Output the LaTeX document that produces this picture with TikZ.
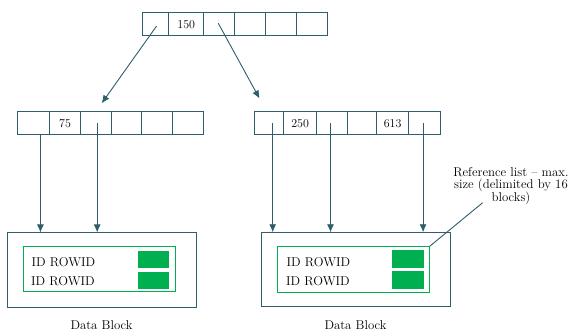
\documentclass[tikz,border=0pt]{standalone}
\usetikzlibrary{arrows.meta}
\definecolor{lineC}{HTML}{2F5D6C}
\definecolor{grn}{HTML}{00B050}
\begin{document}
\begin{tikzpicture}[x=1pt,y=-1pt,
  cell/.style={draw=lineC,line width=0.9pt,minimum height=23pt,inner sep=0pt,anchor=west,font=\fontsize{12}{14}\selectfont},
  arr/.style={draw=lineC,line width=0.9pt,-{Latex[length=8pt,width=7pt]}},
  blk/.style={draw=lineC,line width=0.9pt,inner sep=0pt},
  gbox/.style={draw=grn,line width=0.9pt,inner sep=0pt},
  gsq/.style={fill=grn,draw=none,inner sep=0pt},
  lbl/.style={font=\fontsize{12.8}{14}\selectfont}]
\useasboundingbox (0,0) rectangle (571,333);
% top array
\node[cell,minimum width=26.6pt] (t1) at (141.7,24.2) {};
\node[cell,minimum width=35pt] (t2) at (168.3,24.2) {150};
\node[cell,minimum width=31pt] (t3) at (203.3,24.2) {};
\node[cell,minimum width=30.7pt] (t4) at (234.3,24.2) {};
\node[cell,minimum width=30.7pt] (t5) at (265,24.2) {};
\node[cell,minimum width=31pt] (t6) at (295.7,24.2) {};
% left array
\node[cell,minimum width=32pt] (l1) at (17.3,123.3) {};
\node[cell,minimum width=30.7pt] (l2) at (49.3,123.3) {75};
\node[cell,minimum width=30.7pt] (l3) at (80,123.3) {};
\node[cell,minimum width=30.6pt] (l4) at (110.7,123.3) {};
\node[cell,minimum width=30.4pt] (l5) at (141.3,123.3) {};
\node[cell,minimum width=31.6pt] (l6) at (171.7,123.3) {};
% right array
\node[cell,minimum width=29.3pt] (r1) at (254,123.3) {};
\node[cell,minimum width=32.7pt] (r2) at (283.3,123.3) {250};
\node[cell,minimum width=30.7pt] (r3) at (316,123.3) {};
\node[cell,minimum width=29.3pt] (r4) at (346.7,123.3) {};
\node[cell,minimum width=32.3pt] (r5) at (376,123.3) {613};
\node[cell,minimum width=31.7pt] (r6) at (408.3,123.3) {};
% data blocks
\node[blk,minimum width=188.7pt,minimum height=74.3pt] (db1) at (101.65,270) {};
\node[blk,minimum width=189pt,minimum height=74pt] (db2) at (356.2,269.7) {};
\node[gbox,minimum width=151.7pt,minimum height=45pt] (g1) at (99.15,269.2) {};
\node[gbox,minimum width=152pt,minimum height=45.6pt] (g2) at (353.3,269.5) {};
\node[gsq,minimum width=31pt,minimum height=17pt] (s1a) at (153.8,259.2) {};
\node[gsq,minimum width=31pt,minimum height=17pt] (s1b) at (153.8,280.2) {};
\node[gsq,minimum width=31.7pt,minimum height=17.7pt] (s2a) at (408.2,258.9) {};
\node[gsq,minimum width=31.7pt,minimum height=17.7pt] (s2b) at (408.2,279.9) {};
\node[lbl,anchor=west,inner sep=0pt] (i1a) at (31.5,262.5) {ID ROWID};
\node[lbl,anchor=west,inner sep=0pt] (i1b) at (31,281) {ID ROWID};
\node[lbl,anchor=west,inner sep=0pt] (i2a) at (286.5,262.5) {ID ROWID};
\node[lbl,anchor=west,inner sep=0pt] (i2b) at (286,281) {ID ROWID};
\node[lbl] (d1) at (101.5,325) {Data Block};
\node[lbl] (d2) at (355.5,325) {Data Block};
\node[lbl,align=center,inner sep=0pt] (ref) at (511,186) {Reference list -- max.\\[-1.5pt]size (delimited by 16\\[-1.5pt]blocks)};
% connectors
\coordinate (p1) at (101.7,103.3);
\coordinate (p2) at (259.5,98.5);
\draw[arr] ([xshift=1pt,yshift=-2pt]t1.center) -- (p1);
\draw[arr] ([xshift=-1pt,yshift=1pt]t3.center) -- (p2);
\draw[arr] ([xshift=6.7pt]l1.south) -- ([xshift=6.7pt]l1.south |- db1.north);
\draw[arr] ([xshift=1.4pt]l3.center) -- ([xshift=1.4pt]l3.center |- db1.north);
\draw[arr] ([xshift=3.6pt]r1.center) -- ([xshift=3.6pt]r1.center |- db2.north);
\draw[arr] ([xshift=-1.3pt]r3.center) -- ([xshift=-1.3pt]r3.center |- db2.north);
\draw[arr] ([xshift=-1.5pt]r6.center) -- ([xshift=-1.5pt]r6.center |- db2.north);
\coordinate (q) at (482.7,202.7);
\draw[draw=lineC,line width=0.9pt] (g2.north east) -- (q);
\end{tikzpicture}
\end{document}
